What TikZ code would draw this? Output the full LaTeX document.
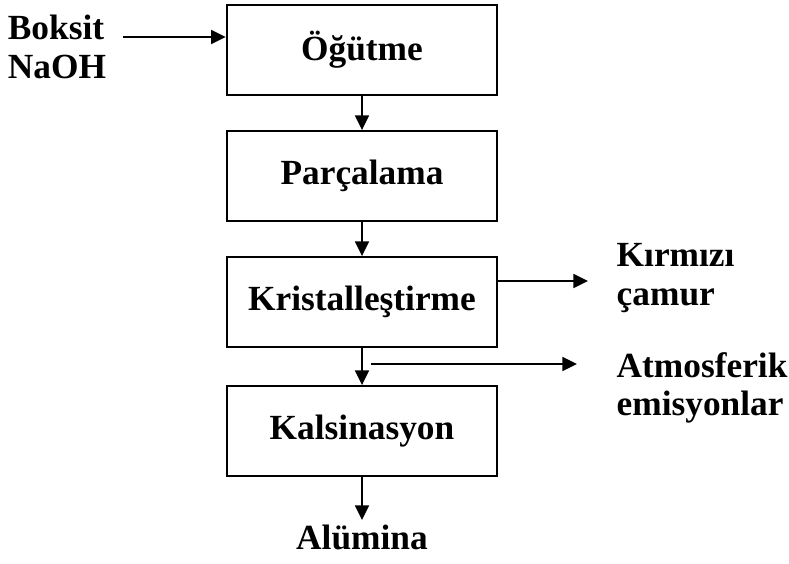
\documentclass[tikz,border=0pt]{standalone}
\usepackage{fontspec}
\setmainfont{Liberation Serif}
\usetikzlibrary{arrows.meta}

\begin{document}
\begin{tikzpicture}[x=0.75pt, y=-0.75pt,
    every node/.style={font=\fontsize{26.5}{29}\selectfont\bfseries},
    kutu/.style={draw, rectangle, line width=1.4pt, minimum width=203pt, minimum height=67.5pt},
    ok/.style={-{Triangle[length=11pt,width=10.5pt]}, line width=1.3pt}]
    \useasboundingbox (0,0) rectangle (789,564);

    % Process steps
    \node[kutu] (ogutme) at (362,50) {Öğütme};
    \node[kutu] (parcalama) at (362,176) {Parçalama};
    \node[kutu] (kristal) at (362,302) {Kristalleştirme};
    \node[kutu] (kalsin) at (362,431) {Kalsinasyon};

    % Inputs and outputs
    \node[align=left] (girdi) at (57,47) {Boksit\\NaOH};
    \node[align=left, anchor=west] (camur) at (612,278) {Kırmızı\\çamur};
    \node[align=left, anchor=west] (emisyon) at (612,388) {Atmosferik\\emisyonlar};
    \node[anchor=north] (alumina) at (362,520) {Alümina};

    \coordinate (g0) at (123,37);
    \coordinate (k1) at (588,281);
    \coordinate (a0) at (371,364);
    \coordinate (a1) at (577,364);

    % Connections
    \draw[ok] (g0) -- (g0 -| ogutme.west);
    \draw[ok] (ogutme) -- (parcalama);
    \draw[ok] (parcalama) -- (kristal);
    \draw[ok] (kristal) -- (kalsin);
    \draw[ok] (kalsin) -- (alumina);

    \draw[ok] (k1 -| kristal.east) -- (k1);
    \draw[ok] (a0) -- (a1);
\end{tikzpicture}
\end{document}
